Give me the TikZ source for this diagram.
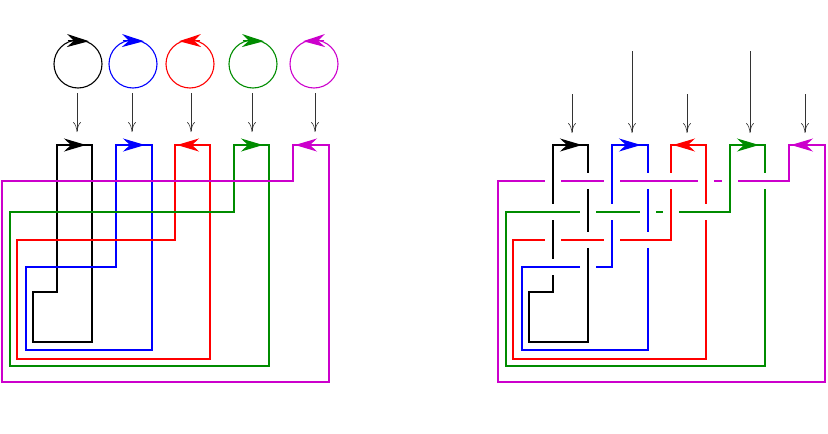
\documentclass[tikz,border=0pt]{standalone}
\usetikzlibrary{arrows.meta}

\definecolor{kmag}{RGB}{204,0,204}
\definecolor{kgreen}{RGB}{0,140,0}

\tikzset{
  strand/.style={line width=1.1pt},
  tip/.style={-{Stealth[length=22pt,width=13pt,inset=7pt]}},
  feed/.style={draw=black!80,line width=0.6pt,-{To[length=10pt,width=8pt]}},
}

% strand: colour, left x, right x, level y, far-left x, bottom y
\newcommand{\strandpath}[6]{%
  \draw[strand,#1] (#3,145) -- (#2,145) -- (#2,#4) -- (#5,#4) -- (#5,#6) -- (#3,#6) -- cycle;}
% crossing: under strand horizontal (erase it, redraw vertical in over colour)
\newcommand{\hunder}[3]{%
  \fill[white] (#2-8,#3-2) rectangle (#2+8,#3+2);
  \draw[strand,#1] (#2,#3-4) -- (#2,#3+4);}
% crossing: under strand vertical
\newcommand{\vunder}[3]{%
  \fill[white] (#2-2,#3-8) rectangle (#2+2,#3+8);
  \draw[strand,#1] (#2-4,#3) -- (#2+4,#3);}

\begin{document}
\begin{tikzpicture}[x=1pt,y=-1pt]
  \useasboundingbox (0,0) rectangle (828,434);

  % unknots on top
  \foreach \cx/\col/\dir in {78/black/1,133/blue/1,190/red/-1,253/kgreen/1,314/kmag/-1} {
    \draw[strand,\col] (\cx,64) circle (24);
    \draw[strand,\col,tip] (\cx-10*\dir,40.6) -- (\cx+11*\dir,41.2);
  }
  \foreach \x in {77,132,191,252,315}
    \draw[feed] (\x,93) -- (\x,132);

  % left link
  \strandpath{black}{57}{92}{292}{33}{342}
  \strandpath{blue}{116}{152}{267}{26}{350}
  \strandpath{red}{175}{210}{240}{17}{359}
  \strandpath{kgreen}{234}{269}{212}{10}{366}
  \strandpath{kmag}{293}{329}{181}{2}{382}
  \foreach \xl/\col/\dir in {57/black/1,116/blue/1,175/red/-1,234/kgreen/1,293/kmag/-1} {
    \ifnum\dir=1
      \draw[strand,\col,tip] (\xl+6,145) -- (\xl+29,145);
    \else
      \draw[strand,\col,tip] (\xl+26,145) -- (\xl+2,145);
    \fi
  }

  % right link
  \begin{scope}[shift={(496,0)}]
    \strandpath{black}{57}{92}{292}{33}{342}
    \strandpath{blue}{116}{152}{267}{26}{350}
    \strandpath{red}{175}{210}{240}{17}{359}
    \strandpath{kgreen}{234}{269}{212}{10}{366}
    \strandpath{kmag}{293}{329}{181}{2}{382}
    \foreach \xl/\col/\dir in {57/black/1,116/blue/1,175/red/-1,234/kgreen/1,293/kmag/-1} {
      \ifnum\dir=1
        \draw[strand,\col,tip] (\xl+6,145) -- (\xl+29,145);
      \else
        \draw[strand,\col,tip] (\xl+26,145) -- (\xl+2,145);
      \fi
    }
    % magenta level
    \hunder{black}{57}{181}
    \vunder{kmag}{92}{181}
    \hunder{blue}{116}{181}
    \vunder{kmag}{152}{181}
    \vunder{kmag}{175}{181}
    \hunder{red}{210}{181}
    \hunder{kgreen}{234}{181}
    \vunder{kmag}{269}{181}
    % green level
    \vunder{kgreen}{57}{212}
    \hunder{black}{92}{212}
    \vunder{kgreen}{116}{212}
    \hunder{blue}{152}{212}
    \hunder{red}{175}{212}
    \vunder{kgreen}{210}{212}
    % red level
    \hunder{black}{57}{240}
    \vunder{red}{92}{240}
    \hunder{blue}{116}{240}
    \vunder{red}{152}{240}
    % blue level
    \vunder{blue}{57}{267}
    \hunder{black}{92}{267}
  \end{scope}

  \foreach \x/\y in {572/94,632/51,687/94,750/51,805/94}
    \draw[feed] (\x,\y) -- (\x,133);
\end{tikzpicture}
\end{document}
